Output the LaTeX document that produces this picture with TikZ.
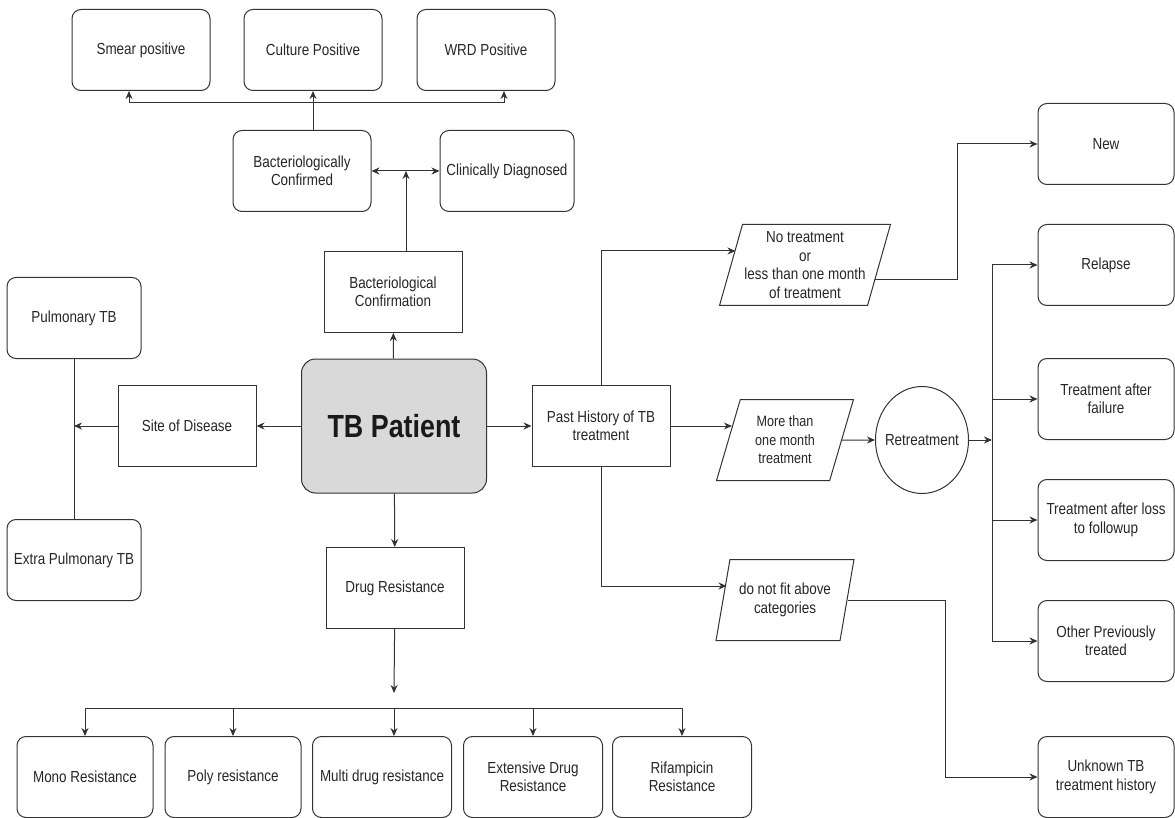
\documentclass[tikz,border=0pt]{standalone}
\usepackage{fontspec}
\setmainfont{Liberation Sans}[FakeStretch=0.84]
\usetikzlibrary{arrows, arrows.meta}
\usetikzlibrary{positioning, shapes.geometric, calc}

\tikzset{
  rbox/.style={draw=black!80, line width=1pt, rounded corners=9pt, minimum width=138pt, minimum height=81pt,
    align=center, inner sep=2pt, text=black!85, font=\fontsize{16}{18.5}\selectfont},
  sbox/.style={rbox, sharp corners},
  pbox/.style={rbox, sharp corners, trapezium, trapezium left angle=72, trapezium right angle=108,
    trapezium stretches=true, minimum width=138pt},
  arr/.style={draw=black!80, line width=1pt, -{Stealth[length=8pt,width=7pt]}},
  ln/.style={draw=black!80, line width=1pt}
}

\begin{document}
\begin{tikzpicture}[x=1pt,y=-1pt]
\useasboundingbox (0,0) rectangle (1175,818);

\node[rbox] (smear) at (141,50) {Smear positive};
\node[rbox] (culture) at (313,50) {Culture Positive};
\node[rbox] (wrd) at (486,50) {WRD Positive};
\node[rbox] (bcd) at (302,171) {Bacteriologically\\Confirmed};
\node[rbox, minimum width=134pt] (cd) at (507,171) {Clinically Diagnosed};
\node[sbox] (bconf) at (393,292) {Bacteriological\\Confirmation};
\node[rbox, fill=black!15, minimum width=185pt, minimum height=134pt, rounded corners=14pt,
  font=\fontsize{32}{38}\selectfont\bfseries, text=black!90] (tb) at (394,426) {TB Patient};
\node[sbox] (site) at (187,426) {Site of Disease};
\node[rbox, minimum width=134pt] (pulm) at (74,318) {Pulmonary TB};
\node[rbox, minimum width=134pt] (extra) at (74,560) {Extra Pulmonary TB};
\node[sbox] (dr) at (395,588) {Drug Resistance};
\node[rbox, minimum width=136pt] (mono) at (85,777) {Mono Resistance};
\node[rbox, minimum width=136pt] (poly) at (233,777) {Poly resistance};
\node[rbox, minimum width=139pt] (multi) at (382,777) {Multi drug resistance};
\node[rbox, minimum width=139pt] (ext) at (533,777) {Extensive Drug\\Resistance};
\node[rbox, minimum width=139pt] (rif) at (682,777) {Rifampicin\\Resistance};
\node[sbox] (past) at (601,426) {Past History of TB\\treatment};
\node[pbox] (notreat) at (805,265) {No treatment\\or\\less than one month\\of treatment};
\node[pbox, font=\fontsize{15}{18.5}\selectfont] (more) at (785,440) {More than\\one month\\treatment};
\node[pbox] (dnf) at (785,600) {do not fit above\\categories};
\node[draw=black!80, line width=1pt, ellipse, minimum width=93pt, minimum height=107pt,
  inner xsep=-6pt, inner ysep=0pt, text=black!85, font=\fontsize{16}{18.5}\selectfont] (retreat) at (922,440) {Retreatment};
\node[rbox, minimum width=136pt] (new) at (1106,144) {New};
\node[rbox, minimum width=136pt] (relapse) at (1106,265) {Relapse};
\node[rbox, minimum width=136pt] (failure) at (1106,399) {Treatment after\\failure};
\node[rbox, minimum width=136pt] (loss) at (1106,520) {Treatment after loss\\to followup};
\node[rbox, minimum width=136pt] (other) at (1106,641) {Other Previously\\treated};
\node[rbox, minimum width=136pt] (unknown) at (1106,777) {Unknown TB\\treatment history};

\coordinate (bus) at (313,103);
\coordinate (bjun) at (406,171);
\coordinate (drend) at (394,693);
\coordinate (drbus) at (394,708);
\coordinate (rbus) at (992,265);

\draw[arr] (tb) -- (bconf);
\draw[arr] (bconf.north -| bjun) -- (bjun);
\draw[arr, {Stealth[length=8pt,width=7pt]}-{Stealth[length=8pt,width=7pt]}] (bcd) -- (cd);
\draw[arr] (bcd.north -| culture) -- (culture);
\draw[arr] (bus) -| ([xshift=-12pt]smear.south);
\draw[arr] (bus) -| ([xshift=18pt]wrd.south);

\draw[arr] (tb) -- (site);
\draw[arr] (site.west) -- (site.west -| pulm);
\draw[ln] (pulm) -- (extra);

\draw[arr] (tb) -- (dr);
\draw[arr] (dr) -- (drend);
\draw[arr] (drbus) -| (mono.north);
\draw[arr] (drbus) -| (poly.north);
\draw[arr] (drbus) -- (drbus |- multi.north);
\draw[arr] (drbus) -| (ext.north);
\draw[arr] (drbus) -| (rif.north);

\draw[arr] (tb) -- (past);
\draw[arr] (past.north) |- ($(notreat.west)+(5,-14)$);
\draw[arr] ($(notreat.east)+(-5,15)$) -| ([xshift=-80pt]new.west) -- (new.west);
\draw[arr] (past.east) -- ($(past.east -| more.west)+(4,0)$);
\draw[arr] (more.east) -- (retreat.west);
\draw[arr] (retreat.east) -- (retreat.east -| rbus);
\draw[ln] (rbus) -- (other.west -| rbus);
\draw[arr] (rbus) -- (relapse.west);
\draw[arr] (failure.west -| rbus) -- (failure.west);
\draw[arr] (loss.west -| rbus) -- (loss.west);
\draw[arr] (other.west -| rbus) -- (other.west);
\draw[arr] (past.south) |- ($(dnf.west)+(4,-14)$);
\draw[arr] (dnf.east) -| ([xshift=-92pt]unknown.west) -- (unknown.west);

\end{tikzpicture}
\end{document}
